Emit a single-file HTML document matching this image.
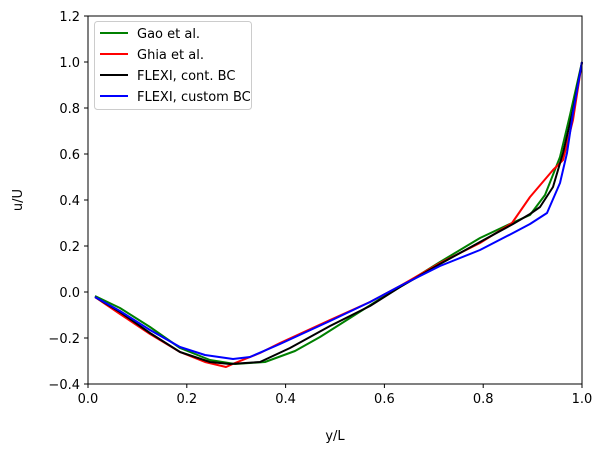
<!DOCTYPE html>
<html><head><meta charset="utf-8"><style>body{margin:0;background:#fff}</style></head><body>
<svg width="604" height="452" xmlns="http://www.w3.org/2000/svg" font-family="DejaVu Sans, Liberation Sans, sans-serif" font-size="13">
<rect width="604" height="452" fill="#fff"/>
<g fill="none" stroke-width="2" stroke-linejoin="round">
<polyline stroke="green" points="95,296 120,308 150,327 180,348 210,360 235,364 265,362 295,351 320,337 350,318 380,299 400,287 440,262 480,238 512,223 530,215 545,195 560,157 570,115 582,62"/>
<polyline stroke="red" points="95,297 120,314 150,334 180,352 205,362 226,367 235,363 260,353 280,343 330,320 370,302 400,286 440,263 480,243 512,223 530,197 553,170 563,160 573,120 582,62"/>
<polyline stroke="black" points="95,297 120,312 150,333 180,352 210,362 230,364 260,362 290,348 330,326 370,306 400,287 440,264 480,242 513,224 530,214 540,207 553,187 563,153 573,110 582,62"/>
<polyline stroke="blue" points="95,297 120,311 150,330 180,347 205,355 233,359 250,357 280,344 330,321 370,302 400,286 440,266 480,250 513,233 530,224 547,213 560,183 567,153 573,113 582,62"/>
</g>
<rect x="88" y="16" width="494" height="368" fill="none" stroke="#000" stroke-width="1"/>
<g stroke="#000">
<line x1="88" y1="384" x2="88" y2="388"/><line x1="186.8" y1="384" x2="186.8" y2="388"/><line x1="285.6" y1="384" x2="285.6" y2="388"/><line x1="384.4" y1="384" x2="384.4" y2="388"/><line x1="483.2" y1="384" x2="483.2" y2="388"/><line x1="582" y1="384" x2="582" y2="388"/>
<line x1="84" y1="16" x2="88" y2="16"/><line x1="84" y1="62" x2="88" y2="62"/><line x1="84" y1="108" x2="88" y2="108"/><line x1="84" y1="154" x2="88" y2="154"/><line x1="84" y1="200" x2="88" y2="200"/><line x1="84" y1="246" x2="88" y2="246"/><line x1="84" y1="292" x2="88" y2="292"/><line x1="84" y1="338" x2="88" y2="338"/><line x1="84" y1="384" x2="88" y2="384"/>
</g>
<g text-anchor="middle">
<text x="88" y="403">0.0</text><text x="186.8" y="403">0.2</text><text x="285.6" y="403">0.4</text><text x="384.4" y="403">0.6</text><text x="483.2" y="403">0.8</text><text x="582" y="403">1.0</text>
<text x="335" y="440">y/L</text>
</g>
<g text-anchor="end">
<text x="80" y="21">1.2</text><text x="80" y="67">1.0</text><text x="80" y="113">0.8</text><text x="80" y="159">0.6</text><text x="80" y="205">0.4</text><text x="80" y="251">0.2</text><text x="80" y="297">0.0</text><text x="80" y="343">−0.2</text><text x="80" y="389">−0.4</text>
</g>
<text x="22" y="200" text-anchor="middle" transform="rotate(-90 22 200)">u/U</text>
<rect x="94.5" y="21.5" width="157" height="88" rx="3" fill="#fff" fill-opacity="0.8" stroke="#ccc"/>
<g stroke-width="2">
<line x1="100" y1="33" x2="128" y2="33" stroke="green"/>
<line x1="100" y1="54" x2="128" y2="54" stroke="red"/>
<line x1="100" y1="75" x2="128" y2="75" stroke="black"/>
<line x1="100" y1="96" x2="128" y2="96" stroke="blue"/>
</g>
<text x="137" y="38">Gao et al.</text>
<text x="137" y="59">Ghia et al.</text>
<text x="137" y="80">FLEXI, cont. BC</text>
<text x="137" y="101">FLEXI, custom BC</text>
</svg>
</body></html>
